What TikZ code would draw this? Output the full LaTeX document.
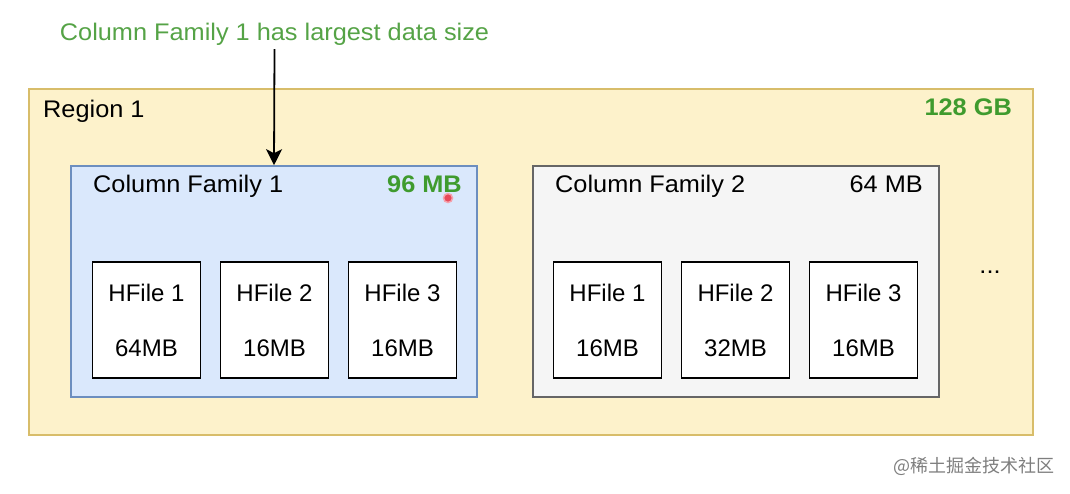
\documentclass[tikz,border=0pt]{standalone}
\usepackage{fontspec}
\setmainfont[FakeStretch=1.055]{Liberation Sans}
\newfontfamily\hffont{Liberation Sans}
\newfontfamily\cjkfont{Noto Sans CJK SC}
\usetikzlibrary{arrows.meta}
\definecolor{regfill}{HTML}{FDF2CB}
\definecolor{regdraw}{HTML}{D8BD6A}
\definecolor{cfonefill}{HTML}{DAE8FC}
\definecolor{cfonedraw}{HTML}{6C8EBF}
\definecolor{cftwofill}{HTML}{F5F5F5}
\definecolor{cftwodraw}{HTML}{666666}
\definecolor{lbgreen}{HTML}{55A346}
\definecolor{boldgreen}{HTML}{3F9B2E}
\definecolor{wmgray}{HTML}{7E7E7E}
\definecolor{dotred}{HTML}{E8495A}
\definecolor{dotpink}{HTML}{F4A3AE}
\tikzset{
  txt/.style={font=\fontsize{24}{29}\selectfont, inner sep=0pt},
  regionbox/.style={draw=regdraw, fill=regfill, line width=1.8pt, inner sep=0pt},
  cfone/.style={draw=cfonedraw, fill=cfonefill, line width=1.6pt, inner sep=0pt,
    minimum width=406pt, minimum height=231pt},
  cftwo/.style={draw=cftwodraw, fill=cftwofill, line width=1.6pt, inner sep=0pt,
    minimum width=406pt, minimum height=231pt},
  hfile/.style={draw=black, fill=white, line width=1.6pt, inner sep=0pt,
    minimum width=108pt, minimum height=116pt, align=center,
    font=\hffont\fontsize{24}{55}\selectfont},
}
\begin{document}
\begin{tikzpicture}[x=1pt,y=-1pt]
\useasboundingbox (0,0) rectangle (1070,493);
% region
\node[regionbox, minimum width=1004pt, minimum height=346pt] (region) at (531,262) {};
\node[txt, anchor=base west] (regname) at (43,117) {Region 1};
\node[txt, anchor=base east, text=boldgreen, font=\fontsize{24}{29}\selectfont\bfseries] (regsize) at (1012,115) {128 GB};
% column families
\node[cfone] (cf1) at (274,281.5) {};
\node[cftwo] (cf2) at (736,281.5) {};
\node[txt, anchor=base west] (cf1name) at (93,192) {Column Family 1};
\node[txt, anchor=base east, text=boldgreen, font=\fontsize{24}{29}\selectfont\bfseries] (cf1size) at (462,192) {96 MB};
\node[txt, anchor=base west] (cf2name) at (555,192) {Column Family 2};
\node[txt, anchor=base east] (cf2size) at (923,192) {64 MB};
% cursor dot
\node[circle, fill=dotred, draw=dotpink, line width=1.5pt, minimum size=9pt, inner sep=0pt] (dot) at (448,198) {};
% hfiles
\node[hfile] (h11) at (146.5,320) {HFile 1\\64MB};
\node[hfile] (h12) at (274.5,320) {HFile 2\\16MB};
\node[hfile] (h13) at (402.5,320) {HFile 3\\16MB};
\node[hfile] (h21) at (607.5,320) {HFile 1\\16MB};
\node[hfile] (h22) at (735.5,320) {HFile 2\\32MB};
\node[hfile] (h23) at (863.5,320) {HFile 3\\16MB};
% ellipsis
\node[txt, anchor=base] (more) at (990,273) {...};
% top annotation
\node[font=\fontsize{24}{29}\selectfont, text=lbgreen, anchor=base, inner sep=4pt] (note) at (274.5,40) {Column Family 1 has largest data size};
\draw[line width=1.8pt, -{Stealth[width=16pt,length=16pt,inset=4pt]}] (note.south) -- (cf1.north);
% watermark
\node[font=\cjkfont\fontsize{18}{22}\selectfont, text=wmgray, anchor=base east, inner sep=0pt] (wm) at (1055,472) {@稀土掘金技术社区};
\end{tikzpicture}
\end{document}
